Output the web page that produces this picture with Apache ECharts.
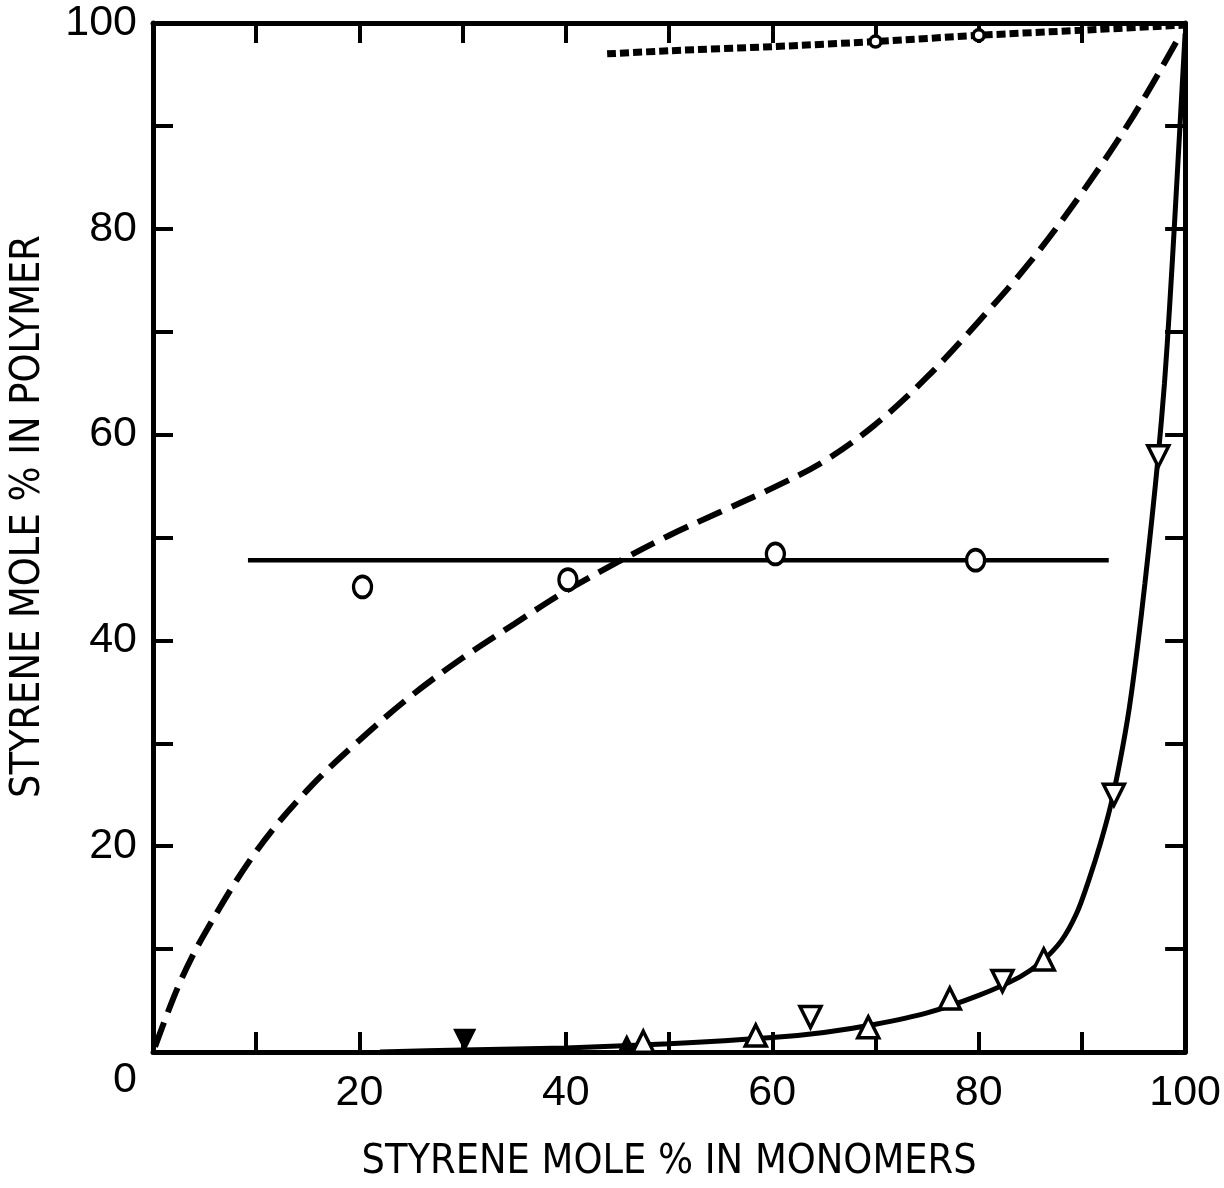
<!DOCTYPE html>
<html>
<head>
<meta charset="utf-8">
<script src="https://cdn.jsdelivr.net/npm/echarts@6/dist/echarts.min.js"></script>
<style>html,body{margin:0;padding:0;background:#fff}#c{width:1224px;height:1188px}</style>
</head>
<body>
<div id="c"></div>
<script>
// ---- data (x = styrene mole % in monomers, y = styrene mole % in polymer) ----
const xTitle = 'STYRENE MOLE % IN MONOMERS';
const yTitle = 'STYRENE MOLE % IN POLYMER';
const tickLabels = [0, 20, 40, 60, 80, 100];

const dashedCurve = [[0.2,0.5],[2.5,6.5],[5,11.5],[10,19.5],[15,25.5],[20,30.3],[25,34.6],[30,38.3],[35,41.6],[40,44.8],[45,47.6],[50,50.2],[55,52.5],[60,54.8],[65,57.4],[70,61],[75,65.6],[80,71],[85,76.8],[90,83.5],[95,91],[99.5,98.8]];
const dottedCurve = [[44,97],[50,97.3],[60,97.7],[70,98.2],[80,98.8],[90,99.3],[100,99.8]];
const dottedCircles = [[70,98.2],[80,98.8]];
const flatLine = [[9.2,47.8],[92.6,47.8]];
const openCircles = [[20.3,45.2],[40.2,45.9],[60.3,48.4],[79.7,47.8]];
const solidCurve = [[22,0],[30,0.2],[40,0.4],[50,0.8],[60,1.4],[65,1.9],[70,2.7],[75,3.8],[80,5.5],[84,7.3],[86,8.7],[88,10.8],[89.5,13.5],[90.7,16.8],[91.8,20.3],[92.8,24],[93.7,28.3],[94.6,33.5],[95.4,39.5],[96.1,45.5],[96.8,52],[97.4,58],[98,65],[98.5,72.5],[99,81],[99.5,90],[100,99]];
const upTriangles = [[47.5,1.0],[58.4,1.6],[69.3,2.4],[77.2,5.2],[86.3,9.0]];
const downTriangles = [[63.7,3.4],[82.3,6.9],[93.1,25.0],[97.4,57.9]];
const filledDownTriangles = [[30.2,1.2]];
const filledUpTriangles = [[45.9,0.8]];

const FONT = "'Liberation Sans', Arial, Helvetica, sans-serif";
const NARROW = "'Liberation Sans Narrow', 'DejaVu Sans Condensed', 'Liberation Sans', sans-serif";
const BLACK = '#000';

const chart = echarts.init(document.getElementById('c'), null, {renderer: 'canvas'});

function labelFmt(v) {
  if (tickLabels.indexOf(v) < 0) return '';
  return String(v);
}

const axisBase = {
  type: 'value', min: 0, max: 100, interval: 10,
  axisLine: {show: true, onZero: false, lineStyle: {color: BLACK, width: 5}},
  axisTick: {show: true, inside: true, length: 20, lineStyle: {color: BLACK, width: 4}},
  splitLine: {show: false}
};

const openStyle = {color: '#fff', borderColor: BLACK, borderWidth: 3.5, opacity: 1};
const fillStyle = {color: BLACK, borderColor: BLACK, borderWidth: 2, opacity: 1};

chart.setOption({
  animation: false,
  backgroundColor: '#fff',
  grid: {left: 153, right: 31, top: 23, bottom: 131},
  xAxis: [
    Object.assign({}, axisBase, {
      position: 'bottom',
      axisLabel: {
        color: BLACK, fontSize: 43, fontFamily: FONT, margin: 20,
        formatter: v => (v === 0 ? '' : labelFmt(v))
      },
      name: xTitle, nameLocation: 'middle', nameGap: 90,
      nameTextStyle: {color: BLACK, fontSize: 41, fontFamily: NARROW}
    }),
    Object.assign({}, axisBase, {position: 'top', axisLabel: {show: false}})
  ],
  yAxis: [
    Object.assign({}, axisBase, {
      position: 'left',
      axisLabel: {
        color: BLACK, fontSize: 43, fontFamily: FONT, margin: 16,
        formatter: v => (v === 0 ? '{z|0}' : labelFmt(v)),
        rich: {z: {fontSize: 43, fontFamily: FONT, color: BLACK, padding: [56, 0, 0, 0]}}
      },
      name: yTitle, nameLocation: 'middle', nameGap: 104,
      nameTextStyle: {color: BLACK, fontSize: 41, fontFamily: NARROW, padding: [0, 0, 0, 42]}
    }),
    Object.assign({}, axisBase, {position: 'right', axisLabel: {show: false}})
  ],
  series: [
    {
      type: 'line', name: 'dashed', data: dashedCurve, smooth: 0.35,
      showSymbol: false, symbol: 'none',
      lineStyle: {color: BLACK, width: 6, type: [26, 11], cap: 'butt'}, z: 2
    },
    {
      type: 'line', name: 'dotted', data: dottedCurve, smooth: 0.3,
      showSymbol: false, symbol: 'none',
      lineStyle: {color: BLACK, width: 7, type: [9, 4], cap: 'butt'}, z: 2
    },
    {
      type: 'scatter', name: 'dottedCircles', data: dottedCircles, symbol: 'circle', symbolSize: 11,
      itemStyle: openStyle, z: 4
    },
    {
      type: 'line', name: 'flat', data: flatLine, showSymbol: false, symbol: 'none',
      lineStyle: {color: BLACK, width: 4.5}, z: 2
    },
    {
      type: 'scatter', name: 'circles', data: openCircles, symbol: 'circle', symbolSize: [18, 21],
      itemStyle: openStyle, z: 4
    },
    {
      type: 'line', name: 'solid', data: solidCurve, smooth: 0.3,
      showSymbol: false, symbol: 'none',
      lineStyle: {color: BLACK, width: 5}, z: 2
    },
    {
      type: 'scatter', name: 'up', data: upTriangles, symbol: 'triangle', symbolSize: 21,
      itemStyle: openStyle, z: 4
    },
    {
      type: 'scatter', name: 'down', data: downTriangles, symbol: 'triangle', symbolSize: 21, symbolRotate: 180,
      itemStyle: openStyle, z: 4
    },
    {
      type: 'scatter', name: 'downFilled', data: filledDownTriangles, symbol: 'triangle', symbolSize: 20, symbolRotate: 180,
      itemStyle: fillStyle, z: 4
    },
    {
      type: 'scatter', name: 'upFilled', data: filledUpTriangles, symbol: 'triangle', symbolSize: 15,
      itemStyle: fillStyle, z: 4
    }
  ]
});
</script>
</body>
</html>
